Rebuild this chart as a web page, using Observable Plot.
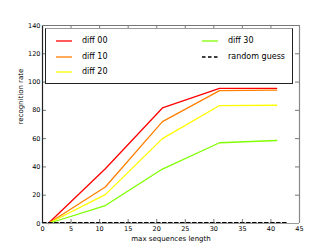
<!DOCTYPE html>
<html>
<head>
<meta charset="utf-8">
<script src="https://cdn.jsdelivr.net/npm/d3@7"></script>
<script src="https://cdn.jsdelivr.net/npm/@observablehq/plot@0.6"></script>
<style>
  html, body { margin: 0; padding: 0; background: #fff; }
  #wrap { position: relative; width: 332px; height: 249px; font-family: "DejaVu Sans", sans-serif; }
  #legend { position: absolute; left: 45px; top: 28px; width: 248px; height: 56px; border: 1px solid #222; border-top-color: #999; background: #fff; box-sizing: border-box; }
  .entry { position: absolute; font-size: 8px; line-height: 10px; color: #000; }
  .entry svg { position: absolute; left: 0; top: 0; }
  .entry span { position: absolute; left: 26px; top: 0; white-space: nowrap; }
</style>
</head>
<body>
<div id="wrap"></div>
<script>
const lengths = [1, 11, 21, 31, 41];
const seriesNames = ["diff 00", "diff 10", "diff 20", "diff 30"];
const diff00 = [0, 38.7, 81.7, 95.6, 95.6];
const diff10 = [0, 25.8, 72, 94, 94.3];
const diff20 = [0, 20.4, 60, 83.4, 83.6];
const diff30 = [0, 12.7, 38.5, 57.1, 58.7];
const seriesColors = ["#ff0000", "#ff7f00", "#ffff00", "#7fff00"];
const randomX = [0, 43];
const randomY = [0.5, 0.5];
const xTicks = [0, 5, 10, 15, 20, 25, 30, 35, 40, 45];
const yTicks = [0, 20, 40, 60, 80, 100, 120, 140];

const allSeries = [diff00, diff10, diff20, diff30];
const rows = [];
allSeries.forEach((vals, i) => vals.forEach((v, j) => rows.push({series: seriesNames[i], x: lengths[j], y: v})));
const randomRows = randomX.map((x, i) => ({x, y: randomY[i]}));

const W = 332, H = 249;
const mL = 42, mR = 33, mT = 25, mB = 26;
const tickLenX = 140 * 4 / (H - mT - mB);
const tickLenY = 45 * 4 / (W - mL - mR);

const chart = Plot.plot({
  width: W, height: H,
  marginLeft: mL, marginRight: mR, marginTop: mT, marginBottom: mB,
  style: {fontFamily: "DejaVu Sans, sans-serif", fontSize: "6.5px", color: "#000", background: "#fff"},
  x: {domain: [0, 45], ticks: xTicks, tickSize: 0, tickPadding: 3, label: null},
  y: {domain: [0, 140], ticks: yTicks, tickSize: 0, tickPadding: 2, label: null},
  color: {domain: seriesNames, range: seriesColors},
  marks: [
    Plot.line(rows, {x: "x", y: "y", z: "series", stroke: "series", strokeWidth: 1.3}),
    Plot.line(randomRows, {x: "x", y: "y", stroke: "#000", strokeWidth: 1.5, strokeDasharray: "3.5,2.5"}),
    // inward ticks, bottom/top
    Plot.ruleX(xTicks, {x: d => d, y1: 0, y2: tickLenX, stroke: "#555", strokeWidth: 0.8}),
    Plot.ruleX(xTicks, {x: d => d, y1: 140 - tickLenX, y2: 140, stroke: "#555", strokeWidth: 0.8}),
    // inward ticks, left/right
    Plot.ruleY(yTicks, {y: d => d, x1: 0, x2: tickLenY, stroke: "#555", strokeWidth: 0.8}),
    Plot.ruleY(yTicks, {y: d => d, x1: 45 - tickLenY, x2: 45, stroke: "#555", strokeWidth: 0.8}),
    // spines
    Plot.ruleX([0], {stroke: "#222", strokeWidth: 1.2}),
    Plot.ruleX([45], {stroke: "#888", strokeWidth: 1.2}),
    Plot.ruleY([0], {stroke: "#999", strokeWidth: 1.2}),
    Plot.ruleY([140], {stroke: "#777", strokeWidth: 1.2}),
    Plot.text(["max sequences length"], {frameAnchor: "bottom", lineAnchor: "middle", dy: 15, fontSize: 7, fill: "#000"}),
    Plot.text(["recognition rate"], {frameAnchor: "left", dx: -22, rotate: -90, fontSize: 7, fill: "#000"})
  ]
});
chart.style.overflow = "visible";
const wrap = document.getElementById("wrap");
wrap.appendChild(chart);

// legend
const legend = document.createElement("div");
legend.id = "legend";
wrap.appendChild(legend);
const legendItems = [
  {label: seriesNames[0], color: seriesColors[0], dash: null, col: 0, row: 0},
  {label: seriesNames[1], color: seriesColors[1], dash: null, col: 0, row: 1},
  {label: seriesNames[2], color: seriesColors[2], dash: null, col: 0, row: 2},
  {label: seriesNames[3], color: seriesColors[3], dash: null, col: 1, row: 0},
  {label: "random guess", color: "#000", dash: "3.5,2.5", col: 1, row: 1}
];
const colX = [10, 156], rowY = [7, 22.6, 38.3];
legendItems.forEach(it => {
  const e = document.createElement("div");
  e.className = "entry";
  e.style.left = colX[it.col] + "px";
  e.style.top = rowY[it.row] + "px";
  e.innerHTML = `<svg width="18" height="10"><line x1="0" x2="16" y1="5" y2="5" stroke="${it.color}" stroke-width="1.3" ${it.dash ? `stroke-dasharray="${it.dash}"` : ""}/></svg><span>${it.label}</span>`;
  legend.appendChild(e);
});
</script>
</body>
</html>
